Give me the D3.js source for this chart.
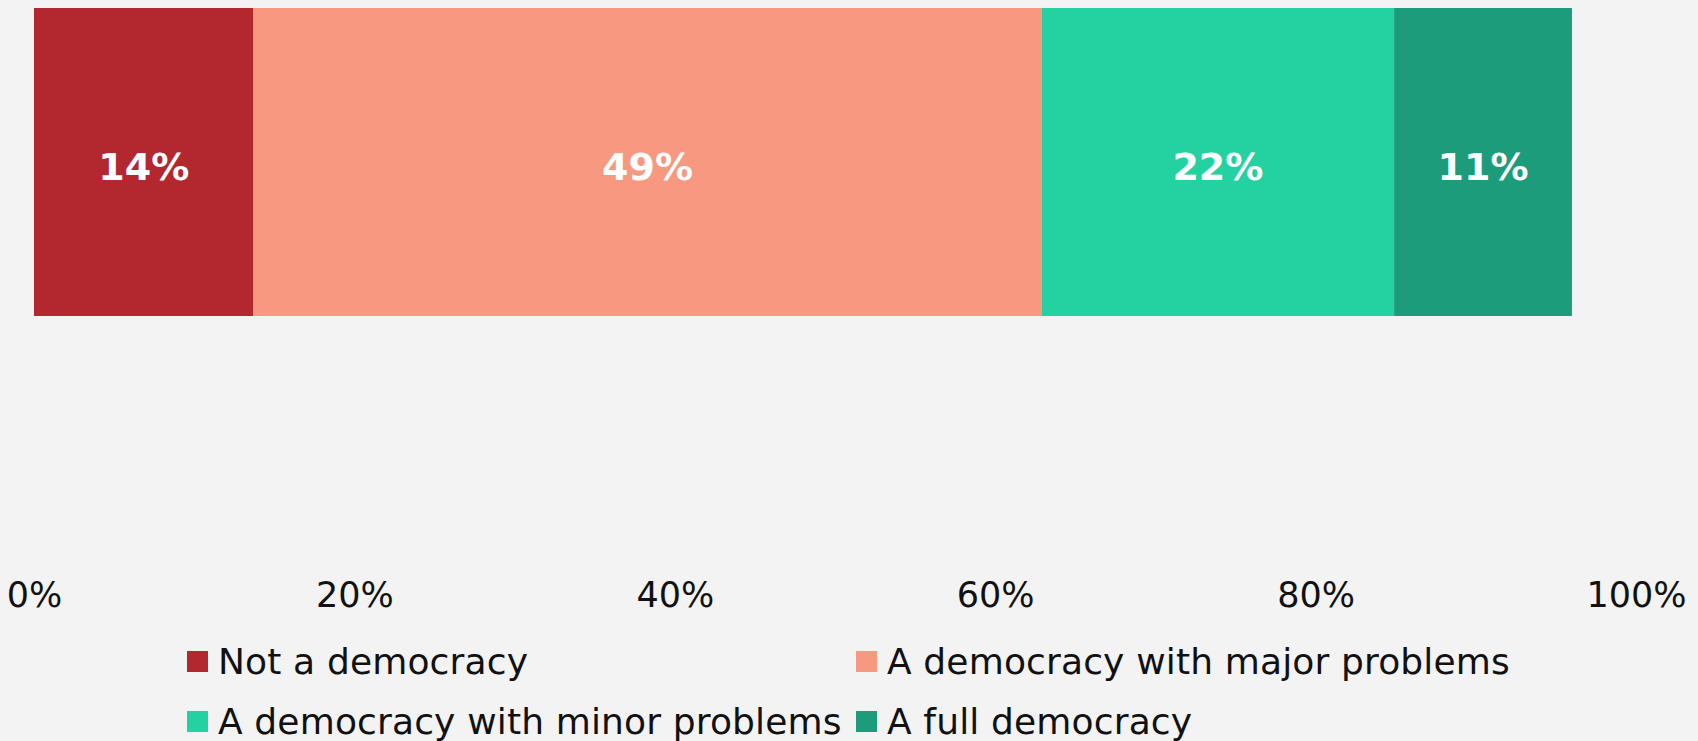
<!DOCTYPE html>
<html>
<head>
<meta charset="utf-8">
<script src="https://cdn.jsdelivr.net/npm/d3@7"></script>
<style>
  html, body { margin: 0; padding: 0; background: #f3f3f3; }
  svg { display: block; }
  text { font-family: "Century Gothic", "DejaVu Sans", sans-serif; }
</style>
</head>
<body>
<script>
var width = 1698,
    height = 741;

// data
var categories = ["Not a democracy", "A democracy with major problems", "A democracy with minor problems", "A full democracy"];
var values = [13.7, 49.2, 22.0, 11.1];
var colors = ["#b3282e", "#f79880", "#24d1a0", "#1c9c7a"];
var tickValues = [0, 20, 40, 60, 80, 100];

var svg = d3.select("body")
    .append("svg")
    .attr("width", width)
    .attr("height", height);

var x = d3.scaleLinear()
    .domain([0, 100])
    .range([34, 1636]);

var y = d3.scaleBand()
    .domain(["all"])
    .range([8, 316]);

// stacked segments
var segs = [], acc = 0;
values.forEach(function (v, i) {
    segs.push({ name: categories[i], value: v, x0: acc, x1: acc + v, color: colors[i] });
    acc += v;
});

var bars = svg.append("g")
    .attr("class", "bars");

bars.selectAll("rect")
    .data(segs)
    .enter().append("rect")
    .attr("x", function (d) { return x(d.x0); })
    .attr("width", function (d) { return x(d.x1) - x(d.x0); })
    .attr("y", y("all"))
    .attr("height", y.bandwidth())
    .style("fill", function (d) { return d.color; });

bars.selectAll("text")
    .data(segs)
    .enter().append("text")
    .attr("x", function (d) { return (x(d.x0) + x(d.x1)) / 2; })
    .attr("y", y("all") + y.bandwidth() / 2 + 18)
    .attr("text-anchor", "middle")
    .style("fill", "#ffffff")
    .style("font-weight", "bold")
    .style("font-size", "38px")
    .text(function (d) { return Math.round(d.value) + "%"; });

// x axis, labels only
var axis = d3.axisBottom(x)
    .tickValues(tickValues)
    .tickSize(0)
    .tickPadding(0)
    .tickFormat(function (d) { return d + "%"; });

var ax = svg.append("g")
    .attr("class", "axis")
    .attr("transform", "translate(0,607)")
    .call(axis);

ax.select(".domain").remove();
ax.selectAll("text")
    .attr("dy", 0)
    .attr("y", 0)
    .style("font-size", "35px")
    .style("fill", "#111")
    .style("font-family", "\"Century Gothic\", \"DejaVu Sans\", sans-serif");

// legend, two columns
var legendX = [187, 856],
    legendY = [651, 711];

var legend = svg.append("g")
    .attr("class", "legend")
    .selectAll("g")
    .data(categories)
    .enter().append("g")
    .attr("transform", function (d, i) {
        return "translate(" + legendX[i % 2] + "," + legendY[Math.floor(i / 2)] + ")";
    });

legend.append("rect")
    .attr("width", 21)
    .attr("height", 21)
    .style("fill", function (d, i) { return colors[i]; });

legend.append("text")
    .attr("x", 31)
    .attr("y", 23)
    .style("font-size", "36px")
    .style("letter-spacing", "0.15px")
    .style("fill", "#111")
    .text(function (d) { return d; });
</script>
</body>
</html>
